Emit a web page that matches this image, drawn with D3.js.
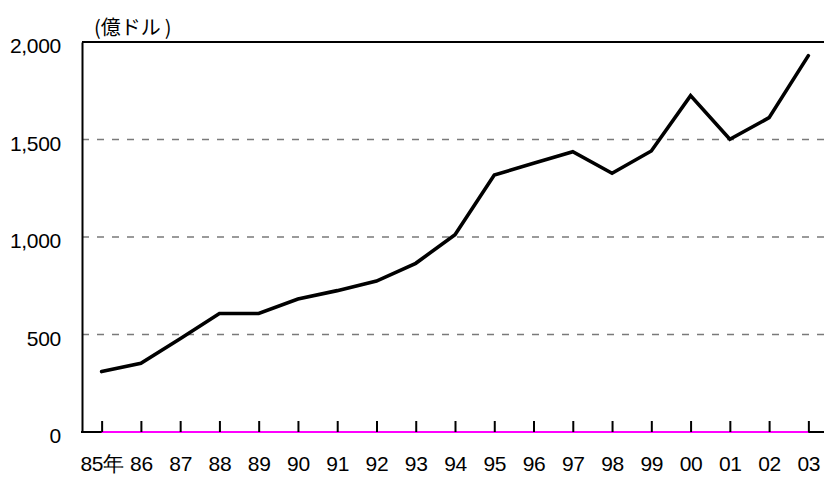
<!DOCTYPE html>
<html>
<head>
<meta charset="utf-8">
<script src="https://cdn.jsdelivr.net/npm/d3@7"></script>
<style>
  body { margin: 0; background: #fff; }
  svg { display: block; font-family: "Liberation Sans", Arial, "Noto Sans CJK JP", sans-serif; }
</style>
</head>
<body>
<svg id="chart" width="824" height="478"></svg>
<script>
// data
let years = ["85","86","87","88","89","90","91","92","93","94","95","96","97","98","99","00","01","02","03"];
let yearLabels = ["85年","86","87","88","89","90","91","92","93","94","95","96","97","98","99","00","01","02","03"];
let values = [310, 352, 478, 608, 608, 682, 725, 774, 865, 1012, 1318, 1378, 1437, 1327, 1441, 1725, 1501, 1612, 1930];
let yTicks = [0, 500, 1000, 1500, 2000];
let unitLabel = "(億ドル\u2009)";

function drawChart(){
    let svg = d3.select('#chart');
    let left = 82, right = 828, top = 42, bottom = 432;

    let x = d3.scalePoint().domain(years).range([left, right]).padding(0.5);
    let y = d3.scaleLinear().domain([0, 2000]).range([bottom, top]);

    // gridlines
    svg.append('g')
        .selectAll('line')
        .data(yTicks.filter(d => d > 0 && d < 2000))
        .enter()
        .append('line')
        .attr('x1', left).attr('x2', 824)
        .attr('y1', d => y(d)).attr('y2', d => y(d))
        .attr('stroke', '#7a7a7a')
        .attr('stroke-width', 1.6)
        .attr('stroke-dasharray', '7,8');

    // top border
    svg.append('line')
        .attr('x1', left).attr('x2', 824)
        .attr('y1', top).attr('y2', top)
        .attr('stroke', 'black').attr('stroke-width', 2);

    // y axis
    let yAxis = svg.append('g')
        .attr('transform', 'translate(' + left + ',0)')
        .call(d3.axisLeft(y).tickValues(yTicks).tickFormat(d3.format(',')).tickSize(0).tickPadding(21));
    yAxis.select('.domain').attr('stroke', 'black').attr('stroke-width', 2);
    yAxis.selectAll('text')
        .attr('font-size', '21px')
        .attr('letter-spacing', '-0.3px')
        .attr('fill', 'black')
        .attr('dy', '0.5em');

    // baseline: black then magenta between first and last year
    svg.append('line')
        .attr('x1', left - 1).attr('x2', 824)
        .attr('y1', bottom).attr('y2', bottom)
        .attr('stroke', 'black').attr('stroke-width', 2);
    svg.append('line')
        .attr('x1', x(years[0])).attr('x2', x(years[years.length - 1]))
        .attr('y1', bottom).attr('y2', bottom)
        .attr('stroke', '#ff00ff').attr('stroke-width', 2);

    // x axis ticks (upward) and labels
    let xAxis = svg.append('g')
        .attr('transform', 'translate(0,' + bottom + ')')
        .call(d3.axisBottom(x)
            .tickSizeInner(-11).tickSizeOuter(0).tickPadding(24)
            .tickFormat((d, i) => yearLabels[i]));
    xAxis.select('.domain').remove();
    xAxis.selectAll('.tick line').attr('stroke', 'black').attr('stroke-width', 2);
    xAxis.selectAll('text')
        .attr('font-size', '21px')
        .attr('letter-spacing', '-0.3px')
        .attr('fill', 'black');

    // series line
    let line = d3.line()
        .x((d, i) => x(years[i]))
        .y(d => y(d));
    svg.append('path')
        .datum(values)
        .attr('d', line)
        .attr('fill', 'none')
        .attr('stroke', 'black')
        .attr('stroke-width', 3.6)
        .attr('stroke-linejoin', 'miter')
        .attr('stroke-linecap', 'round');

    // unit label
    svg.append('text')
        .attr('x', 94).attr('y', 35)
        .attr('font-size', '20px')
        .attr('font-family', '"Noto Sans CJK JP", sans-serif')
        .attr('fill', 'black')
        .text(unitLabel);
}
drawChart();
</script>
</body>
</html>
